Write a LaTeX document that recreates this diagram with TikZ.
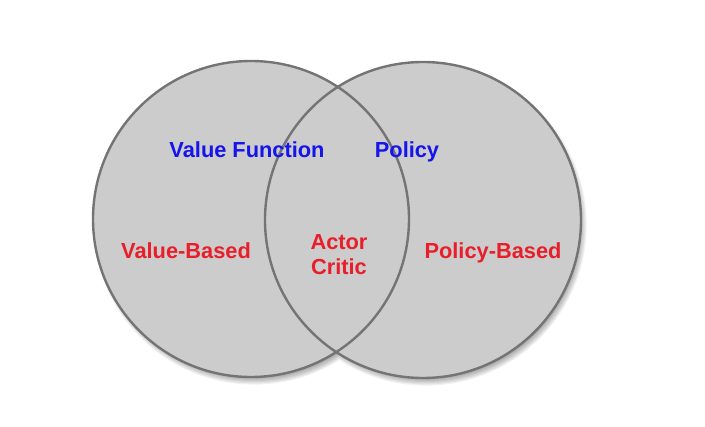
\documentclass[tikz,border=0pt]{standalone}
\usepackage{fontspec}
\setmainfont{Liberation Sans}
\definecolor{vfill}{HTML}{CCCCCC}
\definecolor{vline}{HTML}{747474}
\definecolor{lblue}{RGB}{20,20,235}
\definecolor{lred}{RGB}{232,30,42}
\tikzset{
  lab/.style={font=\bfseries\fontsize{21.8}{25.8}\selectfont, inner sep=0pt, align=center, anchor=base},
  bluelab/.style={lab, text=lblue},
  redlab/.style={lab, text=lred},
  setfill/.style={fill=vfill},
  setline/.style={draw=vline, line width=2.4pt}
}
\begin{document}
\begin{tikzpicture}[x=1pt,y=-1pt]
\useasboundingbox (0,0) rectangle (705,427);
\coordinate (cl) at (251,219);
\coordinate (cr) at (423,220);
% soft shadow
\foreach \k in {0,...,8}{
  \fill[black,opacity=0.06] ([shift={(3,5)}]cl) circle ({151+\k*1.2}) ([shift={(3,5)}]cr) circle ({151+\k*1.2});
}
\fill[setfill] (cl) circle (158) (cr) circle (158);
\draw[setline] (cl) circle (158);
\draw[setline] (cr) circle (158);
\node[bluelab] (vf) at (247,158) {Value Function};
\node[bluelab] (pol) at (407,158) {Policy};
\node[redlab] (vb) at (186,259) {Value-Based};
\node[redlab] (ac) at (339,275) {Actor\\Critic};
\node[redlab] (pb) at (493,259) {Policy-Based};
\end{tikzpicture}
\end{document}
